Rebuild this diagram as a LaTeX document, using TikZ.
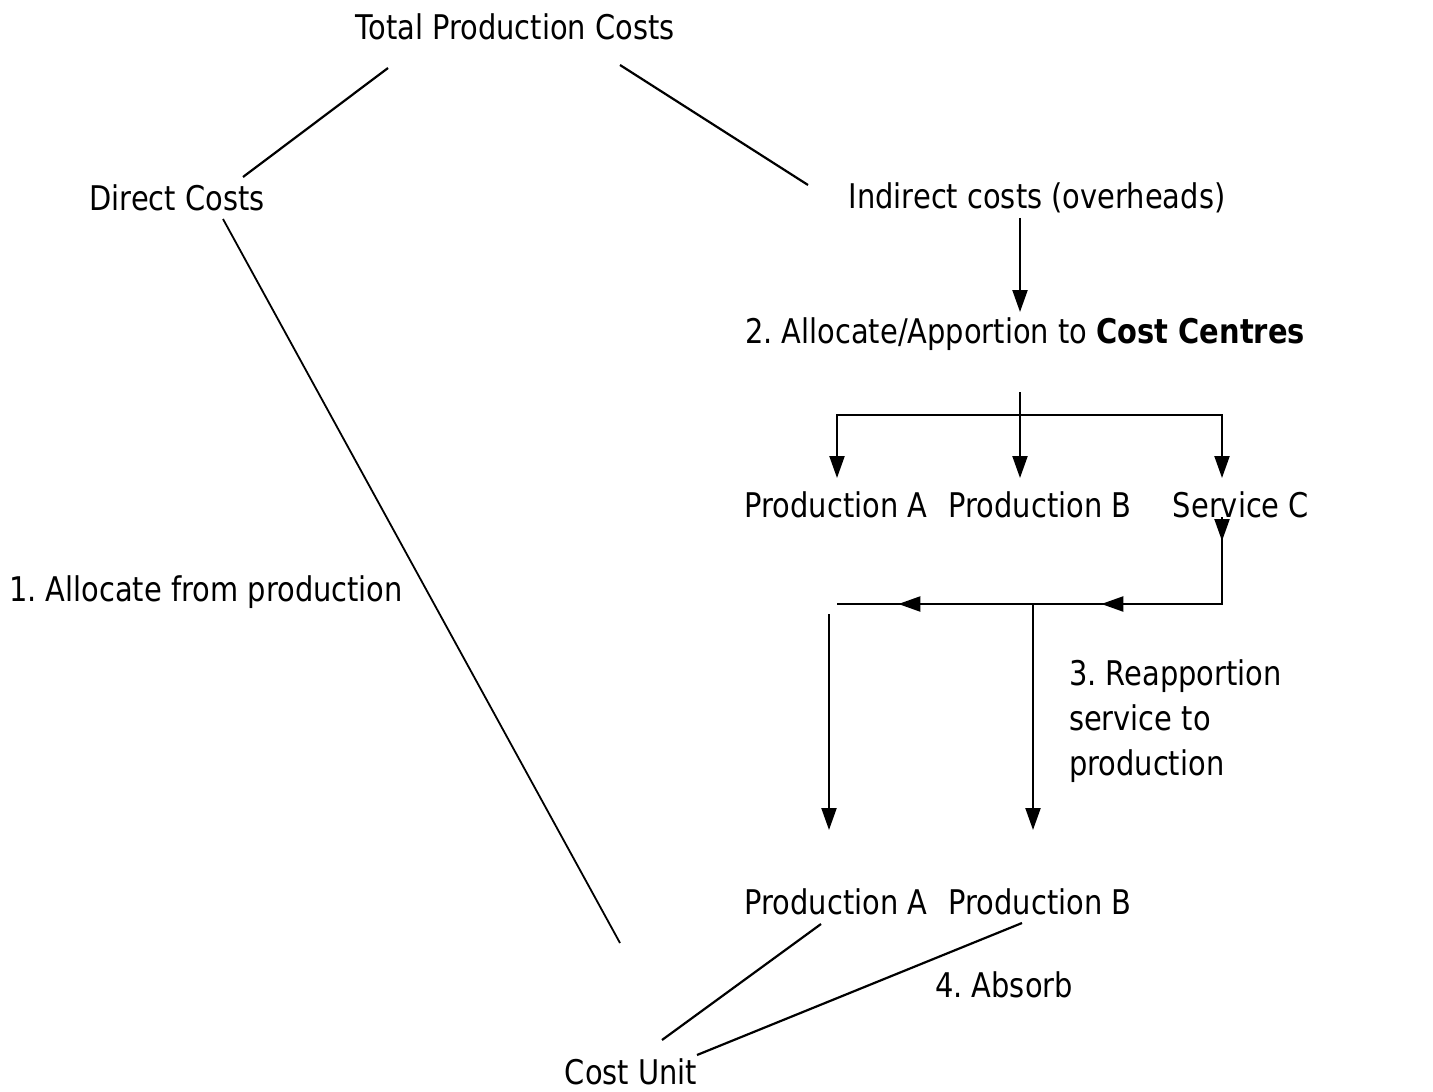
\documentclass[tikz,border=0pt]{standalone}
\usepackage{fontspec}
\setmainfont{DejaVu Sans}[FakeStretch=0.85]
\usetikzlibrary{arrows.meta,calc,decorations.markings}
\tikzset{
  lbl/.style={inner sep=2pt, font=\fontsize{17}{22.5}\selectfont},
  tip/.tip={Triangle[width=7.5pt,length=11pt]},
  arr/.style={-tip},
  loopline/.style={postaction={decorate}, decoration={markings,
      mark=at position 12pt with {\arrow{tip}},
      mark=at position 0.44 with {\arrow{tip}},
      mark=at position 0.87 with {\arrow{tip}}}}
}
\begin{document}
\frenchspacing
\begin{tikzpicture}[x=0.5pt,y=-0.5pt,line width=1.1pt]
  \useasboundingbox (0,0) rectangle (1433,1091);
  \node[lbl] (total) at (515,27) {Total Production Costs};
  \node[lbl] (direct) at (177,198) {Direct Costs};
  \node[lbl] (indirect) at (1037,198) {Indirect costs (overheads)};
  \node[lbl] (alloc) at (1025,334) {2. Allocate/Apportion to \textbf{Cost Centres}};
  \node[lbl] (prodA) at (836,505) {Production A};
  \node[lbl] (prodB) at (1040,505) {Production B};
  \node[lbl] (servC) at (1241,505) {Service C};
  \node[lbl] (step1) at (206,592) {1. Allocate from production};
  \node[lbl,anchor=west,align=left] (step3) at (1064,721) {3. Reapportion\\service to\\production};
  \node[lbl] (prodA2) at (836,902) {Production A};
  \node[lbl] (prodB2) at (1040,902) {Production B};
  \node[lbl] (step4) at (1004,985) {4. Absorb};
  \node[lbl] (unit) at (631,1072) {Cost Unit};
  \coordinate (dirend) at (620,943);

  \draw ($(total)+(-127,41)$) -- ($(direct)+(66,-21)$);
  \draw ($(total)+(105,38)$) -- ($(indirect)+(-229,-13)$);
  \draw[line width=0.9pt] ($(direct)+(46,21)$) -- (dirend);
  \draw[arr] ($(indirect)+(-17,20)$) -- ($(alloc)+(-5,-22)$);
  \draw[arr] ($(alloc)+(-5,58)$) -- ($(prodB)+(-20,-27)$);
  \draw[tip-tip] ($(prodA)+(1,-27)$) |- ($(servC)+(-19,-90)$) -- ($(servC)+(-19,-27)$);
  \draw[loopline] ($(servC)+(-19,12)$) |- ($(prodA)+(1,99)$);
  \draw[arr] ($(prodB2)+(-7,-298)$) -- ($(prodB2)+(-7,-72)$);
  \draw[arr] ($(prodA2)+(-7,-288)$) -- ($(prodA2)+(-7,-72)$);
  \draw ($(prodA2)+(-15,22)$) -- ($(unit)+(31,-32)$);
  \draw ($(prodB2)+(-18,21)$) -- ($(unit)+(66,-17)$);
\end{tikzpicture}
\end{document}
